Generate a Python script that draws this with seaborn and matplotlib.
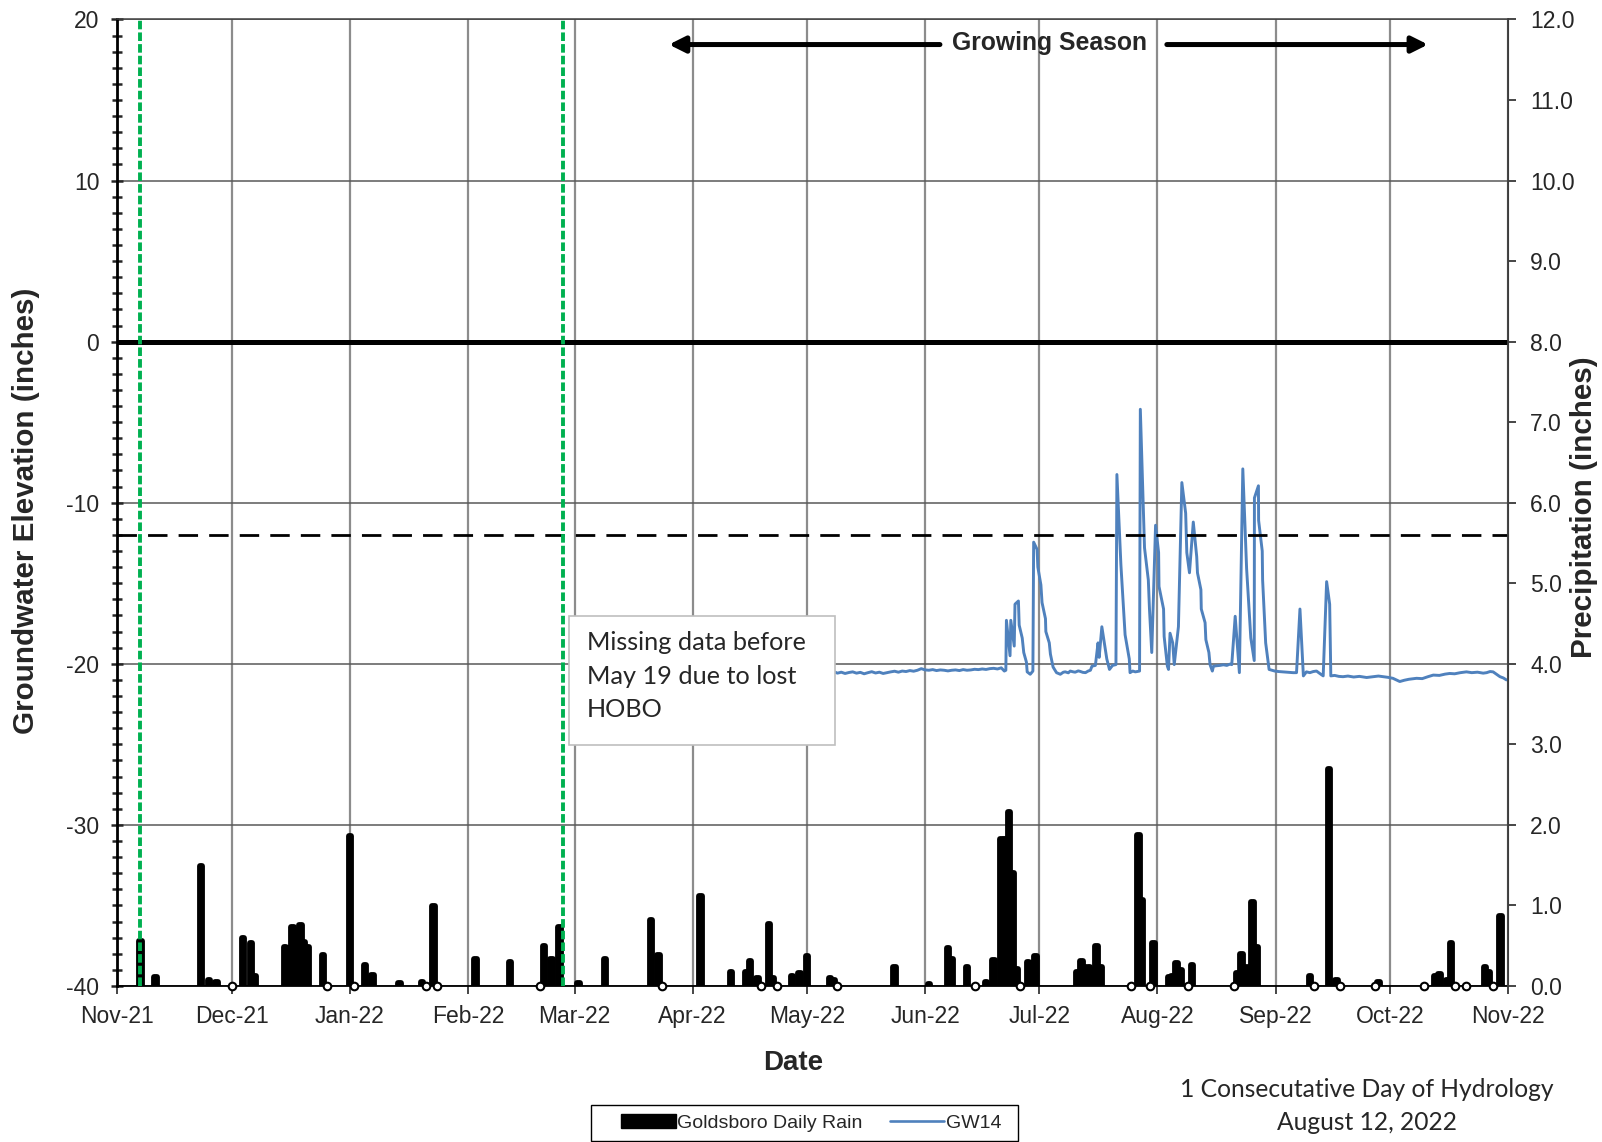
import numpy as np
import pandas as pd
import matplotlib
matplotlib.use("Agg")
import matplotlib.pyplot as plt
import matplotlib.dates as mdates
from matplotlib.patches import Patch, Rectangle
from matplotlib.lines import Line2D
from matplotlib.ticker import MultipleLocator, FormatStrFormatter
import seaborn as sns

# ---------------------------------------------------------------------------
# Goldsboro daily rainfall (inches); 0.0 = measured day with no rain
rain_dates = [
    "2021-11-07", "2021-11-11", "2021-11-23", "2021-11-25", "2021-11-27",
    "2021-12-01", "2021-12-04", "2021-12-06", "2021-12-07", "2021-12-15", "2021-12-16",
    "2021-12-17", "2021-12-18", "2021-12-19", "2021-12-20", "2021-12-21", "2021-12-25", "2021-12-26",
    "2022-01-01", "2022-01-02", "2022-01-05", "2022-01-07", "2022-01-14", "2022-01-20",
    "2022-01-21", "2022-01-23", "2022-01-24",
    "2022-02-03", "2022-02-12", "2022-02-20", "2022-02-21", "2022-02-23", "2022-02-25",
    "2022-03-02", "2022-03-09", "2022-03-21", "2022-03-23", "2022-03-24",
    "2022-04-03", "2022-04-11", "2022-04-15", "2022-04-16", "2022-04-18", "2022-04-19",
    "2022-04-21", "2022-04-22", "2022-04-23", "2022-04-27", "2022-04-29",
    "2022-05-01", "2022-05-07", "2022-05-08", "2022-05-09", "2022-05-24",
    "2022-06-02", "2022-06-07", "2022-06-08", "2022-06-12", "2022-06-14", "2022-06-17",
    "2022-06-19", "2022-06-21", "2022-06-22", "2022-06-23", "2022-06-24", "2022-06-25",
    "2022-06-26", "2022-06-28", "2022-06-29", "2022-06-30",
    "2022-07-11", "2022-07-12", "2022-07-13", "2022-07-14", "2022-07-15", "2022-07-16",
    "2022-07-17", "2022-07-25", "2022-07-27", "2022-07-28", "2022-07-30", "2022-07-31",
    "2022-08-04", "2022-08-05", "2022-08-06", "2022-08-07", "2022-08-09", "2022-08-10",
    "2022-08-21", "2022-08-22", "2022-08-23", "2022-08-24", "2022-08-25", "2022-08-26", "2022-08-27",
    "2022-09-10", "2022-09-11", "2022-09-15", "2022-09-17", "2022-09-18", "2022-09-27", "2022-09-28",
    "2022-10-10", "2022-10-13", "2022-10-14", "2022-10-16", "2022-10-17", "2022-10-18",
    "2022-10-21", "2022-10-26", "2022-10-27", "2022-10-28", "2022-10-30",
]
rain_in = [
    0.56, 0.11, 1.49, 0.07, 0.05,
    0.00, 0.59, 0.53, 0.13, 0.48, 0.47,
    0.73, 0.70, 0.76, 0.55, 0.49, 0.38, 0.00,
    1.86, 0.00, 0.26, 0.14, 0.04, 0.05,
    0.00, 0.99, 0.00,
    0.34, 0.30, 0.00, 0.50, 0.33, 0.73,
    0.04, 0.34, 0.82, 0.38, 0.00,
    1.12, 0.17, 0.17, 0.31, 0.10, 0.00,
    0.77, 0.10, 0.00, 0.13, 0.16,
    0.37, 0.10, 0.07, 0.00, 0.24,
    0.03, 0.47, 0.34, 0.24, 0.00, 0.05,
    0.32, 1.83, 1.83, 2.16, 1.40, 0.21,
    0.00, 0.30, 0.28, 0.37,
    0.18, 0.31, 0.24, 0.24, 0.20, 0.50,
    0.24, 0.00, 1.88, 1.07, 0.00, 0.54,
    0.11, 0.12, 0.28, 0.20, 0.00, 0.26,
    0.00, 0.16, 0.40, 0.24, 0.24, 1.04, 0.48,
    0.12, 0.00, 2.70, 0.07, 0.00, 0.00, 0.05,
    0.00, 0.12, 0.15, 0.08, 0.53, 0.00,
    0.00, 0.23, 0.17, 0.00, 0.87,
]

# GW14 water level (inches relative to ground surface), days after 2022-05-01
gw_origin = "2022-05-01"
gw_day = [
    5, 6, 7, 8, 9, 10, 11, 12, 13, 14, 15, 16, 17, 18, 19, 20, 21, 22, 23, 24,
    25, 26, 27, 28, 29, 30, 31, 32, 33, 34, 35, 36, 37, 38, 39, 40, 41, 42, 43, 44,
    45, 46, 47, 48, 49, 50, 51, 51.8, 52.2,
    52.35, 53.3, 53.5, 54.4, 54.6, 55.5, 55.7, 56.5, 56.9, 57.6, 57.8, 58.6, 59.3,
    59.5, 60.4, 60.6, 61.4, 61.7, 62.6, 62.7, 63.6, 63.9, 64.6, 65.5, 66.5,
    67.3, 67.8, 68.6, 69.1, 69.9, 70.4, 71.2, 71.7, 72.4, 73.1, 73.8, 74.4,
    74.8, 75.7, 76.4, 76.7, 77.4, 78.3, 78.7, 79.4, 80.2, 81.1,
    81.35, 82.4, 83.5, 84.6, 84.8, 85.5, 86.2, 87.3,
    87.5, 88.6, 89.6, 89.9, 90.5, 91.5, 92.3, 92.4, 93.6, 93.75, 94.6, 94.9,
    95.3, 96.0, 96.4, 97.5,
    98.4, 99.4, 99.7, 100.4, 101.4, 102.3, 102.5, 103.4, 103.5, 104.5, 104.7,
    105.5, 105.8, 106.4, 106.7, 107.5, 108.4, 109.3, 110.2, 111.0, 111.5,
    112.4, 113.5, 114.4, 115.4, 116.5, 117.4, 117.45, 118.5, 118.55, 119.5,
    119.6, 120.4, 121.3, 122.0, 122.8, 123.8, 125.0, 126.3, 127.6, 128.5,
    129.4, 130.3, 131.1, 132.0, 132.9, 133.75, 134.6, 135.5, 136.4, 137.2, 137.5,
    138.5, 139.6, 140.7, 142.0, 143.5, 145.0, 146.9, 148.5, 150.0, 151.2,
    152.5, 153.8, 154.7, 155.6, 156.8, 158.0, 160.0, 161.5, 163.0, 164.4,
    166.0, 167.5, 168.7, 170.0, 171.5, 173.1, 174.5, 176.0, 177.5, 178.4,
    179.3, 180.1, 181.0, 181.9, 182.8, 183.6,
]
gw_level = [
    -20.50, -20.55, -20.48, -20.58, -20.52, -20.60, -20.54, -20.50, -20.58, -20.53,
    -20.62, -20.55, -20.49, -20.57, -20.52, -20.60, -20.55, -20.50, -20.46, -20.52,
    -20.45, -20.48, -20.42, -20.46, -20.40, -20.30, -20.38, -20.40, -20.36, -20.42,
    -20.38, -20.40, -20.44, -20.40, -20.38, -20.42, -20.36, -20.40, -20.38, -20.34,
    -20.36, -20.32, -20.35, -20.30, -20.28, -20.32, -20.25, -20.45, -20.40,
    -17.3, -19.5, -17.3, -18.9, -16.3, -16.1, -17.6, -18.4, -19.3, -19.9, -20.5, -20.65, -20.45,
    -12.45, -12.9, -14.0, -15.1, -16.2, -17.2, -18.0, -18.7, -19.4, -20.2, -20.55, -20.65,
    -20.52, -20.50, -20.56, -20.45, -20.50, -20.52, -20.44, -20.47, -20.53, -20.55, -20.45, -20.40,
    -20.15, -20.10, -18.7, -19.6, -17.7, -19.1, -19.7, -20.35, -20.10, -20.05,
    -8.25, -13.85, -18.2, -19.7, -20.55, -20.45, -20.50, -20.45,
    -4.2, -12.8, -14.8, -16.6, -19.3, -11.4, -13.1, -15.2, -16.6, -18.3, -20.15, -20.35,
    -18.1, -18.7, -20.05, -17.7,
    -8.75, -10.65, -13.1, -14.35, -11.2, -13.35, -14.35, -15.4, -16.6, -17.45, -18.5,
    -19.3, -20.05, -20.45, -20.15, -20.12, -20.10, -20.06, -20.10, -20.02, -20.05,
    -17.05, -20.55, -7.9, -14.1, -18.4, -19.8, -9.7, -8.95, -11.1, -13.0,
    -14.8, -18.7, -20.35, -20.40, -20.45, -20.48, -20.50, -20.52, -20.55, -20.55,
    -16.6, -20.75, -20.50, -20.55, -20.48, -20.45, -20.60, -20.75, -14.9, -16.3, -20.75,
    -20.72, -20.78, -20.80, -20.76, -20.82, -20.78, -20.85, -20.80, -20.76, -20.80,
    -20.84, -20.90, -21.00, -21.10, -21.02, -20.96, -20.90, -20.92, -20.80, -20.70,
    -20.72, -20.64, -20.60, -20.62, -20.55, -20.50, -20.55, -20.52, -20.58, -20.55,
    -20.48, -20.50, -20.65, -20.80, -20.88, -21.00,
]

x_start, x_end = "2021-11-01", "2022-11-01"
hydrology_threshold = -12          # inches below surface
window_marks = ["2021-11-07", "2022-02-26"]

# ---------------------------------------------------------------------------
sns.set_style("white")
plt.rcParams["font.family"] = ["Liberation Sans", "DejaVu Sans"]
plt.rcParams["axes.unicode_minus"] = False

rain = pd.DataFrame({"date": pd.to_datetime(rain_dates), "rain": rain_in})
wet = rain[rain["rain"] > 0]
dry = rain[rain["rain"] == 0]
gw = pd.DataFrame({
    "date": pd.Timestamp(gw_origin) + pd.to_timedelta(gw_day, unit="D"),
    "level": gw_level,
})

fig = plt.figure(figsize=(16.02, 11.42), dpi=100)
ax = fig.add_axes([0.0733, 0.1366, 0.8680, 0.8464])
ax2 = ax.twinx()

# groundwater (left axis)
sns.lineplot(data=gw, x="date", y="level", ax=ax, color="#4F81BD",
             linewidth=2.1, legend=False, zorder=3)
ax.axhline(0, color="black", lw=3.6, zorder=4)
ax.axhline(hydrology_threshold, color="black", lw=2.0, ls=(0, (7, 4)), zorder=4)

ax.set_ylim(-40, 20)
ax.set_xlim(pd.Timestamp(x_start), pd.Timestamp(x_end))
ax.yaxis.set_major_locator(MultipleLocator(10))
ax.yaxis.set_minor_locator(MultipleLocator(1))
ax.xaxis.set_major_locator(mdates.MonthLocator())
ax.xaxis.set_major_formatter(mdates.DateFormatter("%b-%y"))
ax.grid(axis="y", which="major", color="#595959", lw=1.1, zorder=0)
ax.grid(axis="x", which="major", color="#8c8c8c", lw=1.6, zorder=0)
ax.set_axisbelow(True)
ax.tick_params(axis="y", which="both", direction="inout", width=1.8, labelsize=16.5,
               pad=9, left=True)
ax.tick_params(axis="y", which="major", length=8)
ax.tick_params(axis="y", which="minor", length=7)
ax.tick_params(axis="x", which="major", direction="out", length=6, width=1.2,
               labelsize=16.5, pad=8, bottom=True)
ax.set_xlabel("")
ax.set_ylabel("")
ax.spines["left"].set_linewidth(2.0)
ax.spines["left"].set_color("black")
ax.spines["bottom"].set_linewidth(1.3)
ax.spines["bottom"].set_color("black")
ax.spines["top"].set_linewidth(1.1)
ax.spines["top"].set_color("#404040")

# rainfall (right axis)
ax2.bar(wet["date"], wet["rain"], width=0.65, color="black", edgecolor="black",
        linewidth=4.2, joinstyle="round", zorder=3)
ax2.scatter(dry["date"], dry["rain"], s=30, facecolors="white", edgecolors="black",
            linewidths=1.5, zorder=4, clip_on=False)
for d in window_marks:
    ax2.axvline(pd.Timestamp(d), color="#00B050", lw=2.8, ls=(0, (2.2, 0.8)), zorder=5)
ax2.set_ylim(0, 12)
ax2.set_xlim(pd.Timestamp(x_start), pd.Timestamp(x_end))
ax2.yaxis.set_major_locator(MultipleLocator(1))
ax2.yaxis.set_major_formatter(FormatStrFormatter("%.1f"))
ax2.tick_params(axis="y", direction="out", length=6, width=1.2, labelsize=16.5, pad=10,
                right=True)
ax2.set_ylabel("")
for side in ("left", "top", "bottom"):
    ax2.spines[side].set_visible(False)
ax2.spines["right"].set_color("#404040")
ax2.spines["right"].set_linewidth(1.3)

# growing-season banner
ax2.text(0.670, 0.9756, "Growing Season", transform=ax2.transAxes, ha="center",
         va="center", fontsize=17.8, fontweight="bold", zorder=6)
arrow_kw = dict(arrowstyle="-|>", lw=3.6, color="black", mutation_scale=24,
                shrinkA=0, shrinkB=0)
ax2.annotate("", xy=(0.3966, 0.974), xytext=(0.5915, 0.974),
             xycoords="axes fraction", textcoords="axes fraction", arrowprops=arrow_kw)
ax2.annotate("", xy=(0.9425, 0.974), xytext=(0.7547, 0.974),
             xycoords="axes fraction", textcoords="axes fraction", arrowprops=arrow_kw)

# note box
ax2.add_patch(Rectangle((0.3247, 0.2493), 0.1914, 0.1335, transform=ax2.transAxes,
                        facecolor="white", edgecolor="#bfbfbf", lw=1.2, zorder=7))
ax2.text(0.3376, 0.3670, "Missing data before\nMay 19 due to lost\nHOBO",
         transform=ax2.transAxes, ha="left", va="top", fontsize=18.2,
         family=["Lato", "DejaVu Sans"], linespacing=1.55, zorder=8)

# axis titles
fig.text(0.016, 0.553, "Groundwater Elevation (inches)", rotation=90, ha="center",
         va="center", fontsize=21.3, fontweight="bold")
fig.text(0.9885, 0.556, "Precipitation (inches)", rotation=90, ha="center",
         va="center", fontsize=21.3, fontweight="bold")
fig.text(0.495, 0.0696, "Date", ha="center", va="center", fontsize=20, fontweight="bold")

# footnote
fig.text(0.853, 0.0464, "1 Consecutative Day of Hydrology", ha="center", va="center",
         fontsize=17.7, family=["Lato", "DejaVu Sans"])
fig.text(0.853, 0.0175, "August 12, 2022", ha="center", va="center",
         fontsize=17.7, family=["Lato", "DejaVu Sans"])

# legend with a plain rectangular frame
fig.patches.append(Rectangle((0.3692, 0.0009), 0.266, 0.0315, transform=fig.transFigure,
                             facecolor="white", edgecolor="black", lw=1.0, zorder=1))
handles = [Patch(facecolor="black", edgecolor="black"),
           Line2D([0], [0], color="#4F81BD", lw=1.9)]
leg = fig.legend(handles, ["Goldsboro Daily Rain", "GW14"], loc="center",
                 bbox_to_anchor=(0.5065, 0.0166), ncol=2, fontsize=14, frameon=False,
                 handlelength=2.8, handletextpad=0.08, columnspacing=1.4,
                 borderpad=0.0)

fig.savefig("out.png", dpi=100)
